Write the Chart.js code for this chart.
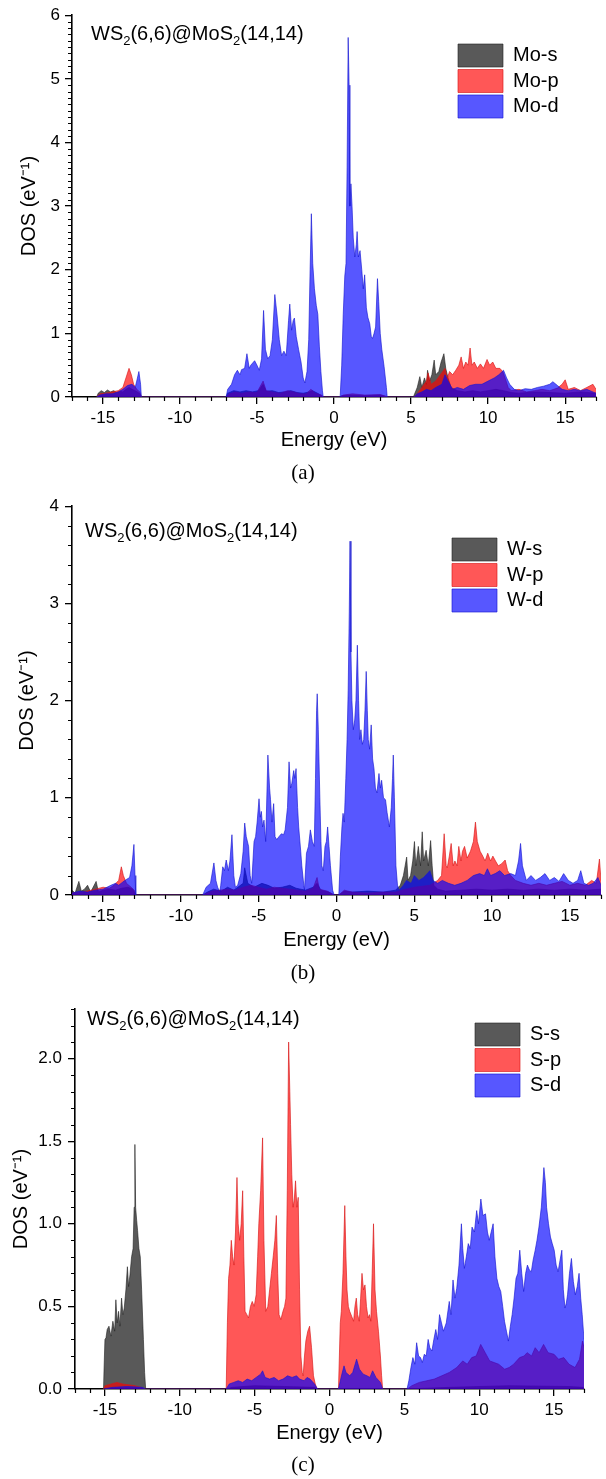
<!DOCTYPE html>
<html><head><meta charset="utf-8">
<script src="https://cdn.jsdelivr.net/npm/chart.js@4.4.0/dist/chart.umd.min.js"></script>
<style>
html,body{margin:0;padding:0;background:#fff;}
#wrap{position:relative;width:606px;height:1479px;overflow:hidden;background:#fff;}
canvas{position:absolute;left:0;}
.cap{position:absolute;left:0;width:606px;text-align:center;font-family:"Liberation Serif","Times New Roman",serif;font-size:21px;line-height:24px;color:#000;}
</style></head><body>
<div id="wrap">
<canvas id="ca" width="606" height="490" style="top:0px"></canvas>
<canvas id="cb" width="606" height="490" style="top:490px"></canvas>
<canvas id="cc" width="606" height="499" style="top:980px"></canvas>
<div class="cap" style="top:460px">(a)</div>
<div class="cap" style="top:960px">(b)</div>
<div class="cap" style="top:1452px">(c)</div>
</div>
<script>
// ---------------- DATA (energy eV, DOS eV^-1) ----------------
const xTickValues = [-15, -10, -5, 0, 5, 10, 15];
const legendA = ['Mo-s', 'Mo-p', 'Mo-d'];
const legendB = ['W-s', 'W-p', 'W-d'];
const legendC = ['S-s', 'S-p', 'S-d'];
const panelLabelParts = [['WS', 0], ['2', 1], ['(6,6)@MoS', 0], ['2', 1], ['(14,14)', 0]];
const xAxisTitle = 'Energy (eV)';
const yAxisTitle = 'DOS (eV\u207B\u00B9)';

// Panel (a): Mo
const moS = [[-15.4,0],[-15.3,0.06],[-15.1,0.1],[-14.9,0.07],[-14.7,0.11],[-14.5,0.08],[-14.3,0.1],[-14.1,0.07],[-13.9,0.09],[-13.7,0.08],[-13.5,0.12],[-13.3,0.15],[-13.1,0.12],[-12.9,0.1],[-12.7,0.07],[-12.55,0.04],[-12.5,0],
[-7.0,0],[-6.9,0.06],[-6.5,0.1],[-6.1,0.08],[-5.7,0.1],[-5.3,0.08],[-4.9,0.1],[-4.6,0.2],[-4.4,0.09],[-4.0,0.1],[-3.6,0.07],[-3.2,0.08],[-2.8,0.1],[-2.4,0.07],[-2.0,0.06],[-1.6,0.08],[-1.4,0.1],[-1.0,0.05],[-0.7,0],
[0.4,0],[0.5,0.02],[1.0,0.03],[2.0,0.02],[3.0,0.03],[3.5,0],
[5.15,0],[5.4,0.15],[5.57,0.32],[5.7,0.15],[5.87,0.3],[6.0,0.2],[6.07,0.42],[6.2,0.25],[6.35,0.35],[6.5,0.58],[6.6,0.35],[6.8,0.4],[6.95,0.55],[7.13,0.68],[7.25,0.45],[7.4,0.3],[7.6,0.15],[8.0,0.1],[8.5,0.08],[9,0.1],[9.5,0.08],[10,0.1],[10.5,0.12],[11,0.1],[11.5,0.07],[12,0.06],[13,0.08],[14,0.07],[15,0.06],[16,0.08],[17,0.06]];
const moP = [[-15.4,0],[-15.2,0.05],[-14.8,0.06],[-14.4,0.08],[-14.0,0.1],[-13.7,0.15],[-13.5,0.3],[-13.3,0.45],[-13.15,0.35],[-13.0,0.2],[-12.8,0.12],[-12.6,0.08],[-12.5,0],
[-7.0,0],[-6.8,0.05],[-6.4,0.08],[-6.0,0.06],[-5.5,0.08],[-5.0,0.07],[-4.6,0.25],[-4.4,0.1],[-4.0,0.08],[-3.5,0.06],[-3.0,0.1],[-2.6,0.08],[-2.2,0.05],[-1.8,0.05],[-1.5,0.12],[-1.2,0.06],[-0.8,0.03],[-0.7,0],
[0.4,0],[0.6,0.03],[1.2,0.05],[2.0,0.03],[3.0,0.04],[3.5,0],
[5.2,0],[5.4,0.05],[5.7,0.15],[6.0,0.25],[6.1,0.38],[6.3,0.2],[6.6,0.25],[6.9,0.35],[7.2,0.45],[7.35,0.3],[7.5,0.4],[7.7,0.35],[7.9,0.42],[8.1,0.5],[8.25,0.63],[8.4,0.45],[8.55,0.55],[8.7,0.5],[8.83,0.77],[8.95,0.5],[9.1,0.55],[9.3,0.45],[9.5,0.52],[9.7,0.45],[9.93,0.59],[10.1,0.5],[10.3,0.55],[10.5,0.45],[10.76,0.45],[10.95,0.4],[11.1,0.3],[11.3,0.15],[11.5,0.1],[12,0.12],[12.5,0.08],[13,0.1],[13.5,0.12],[14,0.1],[14.5,0.14],[14.8,0.2],[15.0,0.27],[15.2,0.12],[15.6,0.15],[16,0.1],[16.4,0.15],[16.8,0.2],[17,0.12]];
const moD = [[-15.4,0],[-15.2,0.03],[-14.8,0.05],[-14.4,0.05],[-14.0,0.08],[-13.7,0.12],[-13.4,0.18],[-13.1,0.2],[-12.9,0.15],[-12.8,0.25],[-12.66,0.4],[-12.55,0.2],[-12.5,0],
[-7.0,0],[-6.9,0.12],[-6.65,0.2],[-6.45,0.35],[-6.27,0.42],[-6.1,0.35],[-6.0,0.43],[-5.8,0.45],[-5.65,0.68],[-5.5,0.45],[-5.4,0.5],[-5.15,0.57],[-5.0,0.5],[-4.85,0.42],[-4.7,0.6],[-4.57,1.36],[-4.45,0.75],[-4.3,0.6],[-4.15,0.65],[-4.0,0.9],[-3.84,1.61],[-3.7,1.3],[-3.55,0.9],[-3.4,0.65],[-3.25,0.72],[-3.1,0.65],[-2.95,1.2],[-2.87,1.46],[-2.75,1.05],[-2.65,1.2],[-2.57,1.24],[-2.45,0.95],[-2.3,0.75],[-2.14,0.55],[-2.0,0.3],[-1.89,0.22],[-1.75,0.4],[-1.64,0.9],[-1.55,2.0],[-1.47,2.88],[-1.38,2.1],[-1.27,1.7],[-1.15,1.44],[-1.05,1.3],[-0.95,0.8],[-0.85,0.4],[-0.75,0.1],[-0.7,0],
[0.4,0],[0.5,0.5],[0.6,1.3],[0.7,1.9],[0.78,2.1],[0.85,3.6],[0.92,5.65],[0.98,4.9],[1.03,3.0],[1.1,3.35],[1.17,3.0],[1.25,2.5],[1.35,2.2],[1.45,2.4],[1.5,2.6],[1.58,2.2],[1.69,2.3],[1.8,2.0],[1.9,1.7],[1.99,1.92],[2.1,1.4],[2.2,1.25],[2.32,1.15],[2.42,0.95],[2.5,0.92],[2.6,1.0],[2.7,1.1],[2.82,1.86],[2.9,1.5],[3.0,1.0],[3.1,0.75],[3.25,0.48],[3.4,0.15],[3.45,0],
[5.2,0],[5.4,0.05],[5.7,0.08],[6.0,0.12],[6.3,0.1],[6.6,0.15],[7.0,0.2],[7.2,0.35],[7.4,0.25],[7.7,0.12],[8.0,0.15],[8.4,0.12],[8.8,0.18],[9.2,0.2],[9.6,0.2],[10.0,0.25],[10.4,0.3],[10.7,0.35],[11.0,0.42],[11.2,0.3],[11.4,0.2],[11.7,0.12],[12.0,0.1],[12.4,0.13],[12.8,0.12],[13.2,0.15],[13.6,0.17],[14.0,0.2],[14.2,0.24],[14.5,0.18],[14.8,0.12],[15.2,0.1],[15.6,0.12],[16.0,0.1],[16.4,0.12],[16.8,0.08],[17,0.06]];

// Panel (b): W
const wS = [[-17,0.05],[-16.8,0.02],[-16.56,0.14],[-16.4,0.04],[-16.2,0.06],[-16.0,0.1],[-15.8,0.03],[-15.45,0.14],[-15.3,0.03],[-15.0,0.05],[-14.6,0.06],[-14.2,0.05],[-13.8,0.07],[-13.4,0.08],[-13.1,0.06],[-12.9,0],
[-8.6,0],[-8.3,0.03],[-7.9,0.06],[-7.4,0.04],[-7.0,0.08],[-6.6,0.05],[-6.0,0.12],[-5.9,0.28],[-5.7,0.12],[-5.3,0.08],[-4.8,0.12],[-4.4,0.1],[-4.0,0.07],[-3.5,0.08],[-3.0,0.1],[-2.6,0.07],[-2.0,0.05],[-1.5,0.08],[-1.25,0.12],[-1.0,0.05],[-0.5,0.03],[-0.15,0],
[0.15,0],[0.5,0.04],[1.0,0.03],[2.0,0.04],[3.0,0.03],[3.8,0.05],[4.1,0.1],[4.3,0.2],[4.51,0.39],[4.6,0.15],[4.76,0.2],[4.9,0.35],[5.01,0.55],[5.1,0.3],[5.26,0.5],[5.4,0.3],[5.51,0.65],[5.6,0.35],[5.76,0.46],[5.9,0.3],[6.05,0.56],[6.15,0.3],[6.25,0.1],[6.5,0.06],[7,0.04],[8,0.05],[9,0.06],[10,0.05],[11,0.06],[12,0.05],[13,0.06],[14,0.05],[15,0.06],[16,0.05],[17,0.06]];
const wP = [[-17,0.02],[-16,0.04],[-15.5,0.06],[-15,0.08],[-14.6,0.07],[-14.3,0.1],[-14.0,0.15],[-13.83,0.29],[-13.7,0.2],[-13.5,0.12],[-13.2,0.08],[-13.0,0.05],[-12.9,0],
[-8.6,0],[-8,0.04],[-7.5,0.05],[-7,0.06],[-6.5,0.05],[-6,0.08],[-5.5,0.1],[-5,0.08],[-4.5,0.06],[-4,0.08],[-3.5,0.07],[-3,0.06],[-2.5,0.05],[-2,0.04],[-1.5,0.07],[-1.25,0.18],[-1.1,0.06],[-0.6,0.04],[-0.15,0],
[0.15,0],[0.5,0.05],[1.0,0.03],[2.0,0.02],[3.0,0.03],[3.8,0.03],[4.2,0.05],[5,0.08],[6,0.1],[6.5,0.15],[6.75,0.2],[6.92,0.63],[7.05,0.3],[7.12,0.28],[7.25,0.4],[7.37,0.53],[7.5,0.3],[7.61,0.35],[7.75,0.3],[7.86,0.5],[8.0,0.35],[8.1,0.45],[8.23,0.5],[8.4,0.38],[8.61,0.45],[8.8,0.55],[8.93,0.75],[9.05,0.55],[9.23,0.45],[9.4,0.4],[9.55,0.35],[9.72,0.43],[9.9,0.35],[10.05,0.4],[10.22,0.35],[10.4,0.3],[10.6,0.32],[10.84,0.36],[11.0,0.25],[11.2,0.2],[11.5,0.15],[12,0.12],[12.5,0.1],[13,0.12],[13.5,0.1],[14,0.12],[14.5,0.14],[15,0.1],[15.5,0.12],[16,0.1],[16.4,0.15],[16.7,0.12],[16.9,0.37],[17,0.15]];
const wD = [[-17,0.02],[-16.5,0.04],[-16,0.03],[-15.5,0.05],[-15,0.06],[-14.5,0.1],[-14.2,0.12],[-14,0.1],[-13.6,0.15],[-13.3,0.18],[-13.15,0.3],[-13.02,0.52],[-12.95,0.2],[-12.9,0],
[-8.6,0],[-8.38,0.08],[-8.1,0.12],[-7.88,0.33],[-7.75,0.15],[-7.64,0.08],[-7.5,0.03],[-7.44,0.1],[-7.31,0.29],[-7.2,0.25],[-7.09,0.36],[-6.95,0.25],[-6.85,0.35],[-6.72,0.62],[-6.6,0.2],[-6.5,0.08],[-6.35,0.1],[-6.15,0.22],[-6.0,0.45],[-5.9,0.74],[-5.8,0.6],[-5.65,0.5],[-5.55,0.2],[-5.45,0.12],[-5.3,0.55],[-5.2,0.6],[-5.1,0.75],[-4.98,0.99],[-4.9,0.8],[-4.83,0.86],[-4.75,0.7],[-4.66,0.77],[-4.55,0.55],[-4.41,1.44],[-4.3,1.1],[-4.24,0.98],[-4.15,0.75],[-4.04,0.94],[-3.95,0.6],[-3.84,0.57],[-3.7,0.6],[-3.54,0.63],[-3.4,0.62],[-3.3,0.67],[-3.15,0.9],[-3.05,1.37],[-2.95,1.1],[-2.87,1.15],[-2.75,1.28],[-2.68,1.2],[-2.6,1.3],[-2.5,0.9],[-2.43,0.7],[-2.3,0.45],[-2.23,0.3],[-2.1,0.1],[-2.06,0.05],[-1.93,0.43],[-1.8,0.5],[-1.68,0.67],[-1.55,0.55],[-1.43,0.5],[-1.35,1.2],[-1.28,1.9],[-1.24,2.07],[-1.17,1.7],[-1.07,1.0],[-1.0,0.55],[-0.94,0.3],[-0.85,0.25],[-0.74,0.5],[-0.65,0.55],[-0.57,0.7],[-0.48,0.5],[-0.39,0.3],[-0.25,0.05],[-0.15,0],
[0.15,0],[0.25,0.4],[0.35,0.7],[0.42,0.84],[0.5,0.75],[0.6,1.2],[0.68,1.6],[0.75,2.1],[0.82,2.9],[0.87,3.64],[0.93,2.5],[0.99,2.0],[1.08,1.7],[1.17,1.8],[1.25,2.0],[1.34,2.57],[1.42,2.0],[1.49,1.6],[1.57,1.7],[1.66,1.55],[1.75,1.6],[1.83,1.9],[1.91,2.3],[1.98,1.9],[2.04,1.6],[2.13,1.5],[2.23,1.75],[2.32,1.4],[2.41,1.3],[2.5,1.1],[2.6,1.05],[2.73,1.25],[2.82,1.1],[2.9,1.18],[3.02,1.0],[3.15,0.98],[3.25,0.85],[3.4,0.7],[3.52,0.9],[3.6,1.2],[3.65,1.44],[3.72,1.0],[3.82,0.3],[3.92,0.1],[4.02,0.05],[4.3,0.1],[4.5,0.15],[4.8,0.12],[5.0,0.2],[5.3,0.15],[5.6,0.18],[6.0,0.25],[6.2,0.15],[6.5,0.12],[6.8,0.15],[7.2,0.12],[7.6,0.1],[8,0.12],[8.4,0.15],[8.8,0.2],[9.2,0.22],[9.5,0.2],[9.7,0.27],[9.9,0.2],[10.2,0.22],[10.5,0.25],[10.8,0.2],[11.2,0.22],[11.5,0.2],[11.7,0.35],[11.83,0.53],[11.95,0.3],[12.2,0.15],[12.5,0.2],[12.8,0.15],[13.1,0.18],[13.4,0.22],[13.7,0.15],[14.0,0.18],[14.3,0.14],[14.6,0.22],[14.9,0.15],[15.2,0.12],[15.5,0.15],[15.7,0.25],[15.9,0.12],[16.2,0.1],[16.5,0.12],[16.8,0.18],[17,0.1]];

// Panel (c): S
const sS = [[-15.1,0],[-15.0,0.3],[-14.93,0.31],[-14.85,0.36],[-14.73,0.38],[-14.6,0.32],[-14.47,0.41],[-14.35,0.35],[-14.27,0.54],[-14.18,0.4],[-14.09,0.47],[-14.0,0.38],[-13.89,0.55],[-13.8,0.45],[-13.71,0.49],[-13.6,0.6],[-13.5,0.74],[-13.42,0.62],[-13.33,0.69],[-13.22,0.8],[-13.12,0.85],[-13.05,1.1],[-13.0,1.48],[-12.95,1.1],[-12.88,1.02],[-12.82,0.96],[-12.73,0.85],[-12.64,0.8],[-12.55,0.6],[-12.43,0.3],[-12.35,0.1],[-12.28,0],
[-6.9,0],[-6.5,0.01],[-5,0.02],[-3,0.015],[-1,0.01],[-0.8,0],
[5.2,0],[8,0.01],[12,0.02],[16,0.015],[17,0.01]];
const sP = [[-15.1,0],[-15.0,0.02],[-14.6,0.03],[-14.2,0.04],[-13.8,0.03],[-13.4,0.025],[-13.0,0.02],[-12.6,0.01],[-12.28,0],
[-6.9,0],[-6.82,0.4],[-6.74,0.67],[-6.65,0.75],[-6.56,0.9],[-6.47,0.8],[-6.38,0.75],[-6.28,0.95],[-6.18,1.28],[-6.1,1.0],[-6.0,0.9],[-5.9,1.0],[-5.8,1.2],[-5.72,0.8],[-5.64,0.47],[-5.52,0.45],[-5.41,0.43],[-5.28,0.5],[-5.16,0.53],[-5.03,0.5],[-4.9,0.57],[-4.8,0.8],[-4.72,1.0],[-4.6,1.2],[-4.47,1.52],[-4.38,0.9],[-4.26,0.47],[-4.12,0.5],[-4.0,0.6],[-3.88,0.7],[-3.75,0.81],[-3.65,0.9],[-3.55,1.05],[-3.46,0.7],[-3.37,0.45],[-3.25,0.42],[-3.11,0.47],[-3.0,0.5],[-2.91,0.55],[-2.82,1.2],[-2.73,2.1],[-2.65,1.8],[-2.6,1.6],[-2.52,1.3],[-2.43,1.1],[-2.35,1.15],[-2.27,1.26],[-2.18,1.1],[-2.09,1.16],[-2.0,0.6],[-1.91,0.2],[-1.82,0.1],[-1.76,0.08],[-1.67,0.2],[-1.58,0.29],[-1.45,0.35],[-1.33,0.38],[-1.2,0.25],[-1.07,0.08],[-0.95,0.03],[-0.82,0],
[0.6,0],[0.66,0.2],[0.72,0.4],[0.79,0.47],[0.9,0.7],[1.02,1.11],[1.1,0.8],[1.17,0.6],[1.26,0.5],[1.35,0.47],[1.48,0.44],[1.61,0.41],[1.7,0.5],[1.79,0.55],[1.88,0.45],[1.99,0.41],[2.08,0.55],[2.17,0.7],[2.27,0.6],[2.37,0.63],[2.47,0.5],[2.58,0.43],[2.67,0.45],[2.76,0.41],[2.85,0.7],[2.94,1.0],[3.04,0.6],[3.14,0.47],[3.27,0.35],[3.4,0.2],[3.48,0.08],[3.55,0],
[5.2,0],[5.5,0.02],[6,0.04],[6.5,0.05],[7,0.06],[7.5,0.08],[8,0.1],[8.5,0.13],[8.9,0.17],[9.2,0.15],[9.5,0.19],[9.8,0.2],[10.1,0.27],[10.4,0.22],[10.7,0.17],[11.0,0.16],[11.3,0.15],[11.7,0.12],[12.0,0.13],[12.3,0.15],[12.7,0.19],[13.0,0.2],[13.2,0.22],[13.5,0.2],[13.74,0.25],[14.0,0.22],[14.3,0.27],[14.6,0.22],[15.0,0.21],[15.3,0.18],[15.65,0.19],[16.0,0.15],[16.4,0.13],[16.7,0.18],[16.9,0.29],[17,0.25]];
const sD = [[-15.1,0],[-14.5,0.01],[-13.5,0.015],[-12.5,0.01],[-12.28,0],
[-6.9,0],[-6.7,0.03],[-6.4,0.04],[-6.1,0.05],[-5.8,0.04],[-5.5,0.06],[-5.2,0.05],[-4.9,0.07],[-4.6,0.09],[-4.47,0.11],[-4.3,0.07],[-4.0,0.06],[-3.7,0.07],[-3.4,0.05],[-3.1,0.06],[-2.8,0.08],[-2.5,0.07],[-2.2,0.08],[-2.0,0.06],[-1.7,0.05],[-1.5,0.07],[-1.3,0.06],[-1.0,0.03],[-0.8,0],
[0.6,0],[0.8,0.08],[0.97,0.14],[1.1,0.1],[1.35,0.08],[1.55,0.1],[1.81,0.18],[2.0,0.12],[2.25,0.09],[2.5,0.08],[2.7,0.07],[2.88,0.11],[3.1,0.07],[3.4,0.04],[3.55,0],
[5.18,0],[5.3,0.05],[5.44,0.13],[5.57,0.19],[5.7,0.15],[5.82,0.28],[5.95,0.2],[6.08,0.19],[6.2,0.16],[6.33,0.21],[6.46,0.2],[6.59,0.3],[6.7,0.25],[6.84,0.23],[6.97,0.3],[7.1,0.36],[7.22,0.3],[7.35,0.45],[7.48,0.4],[7.61,0.35],[7.8,0.4],[8.0,0.53],[8.12,0.45],[8.25,0.66],[8.38,0.55],[8.5,0.61],[8.65,0.75],[8.81,1.0],[8.9,0.85],[9.01,0.73],[9.14,0.8],[9.27,0.88],[9.4,0.85],[9.52,0.98],[9.68,0.95],[9.83,1.08],[9.95,1.0],[10.11,1.15],[10.25,1.05],[10.42,1.06],[10.55,0.95],[10.67,0.9],[10.8,0.95],[10.93,1.0],[11.05,0.8],[11.18,0.67],[11.31,0.62],[11.44,0.59],[11.57,0.5],[11.69,0.41],[11.82,0.35],[11.95,0.29],[12.08,0.38],[12.2,0.45],[12.33,0.55],[12.46,0.67],[12.58,0.7],[12.71,0.84],[12.84,0.7],[12.97,0.59],[13.1,0.7],[13.22,0.75],[13.35,0.72],[13.48,0.71],[13.6,0.78],[13.74,0.84],[13.86,0.9],[13.99,0.98],[14.15,1.1],[14.32,1.34],[14.42,1.25],[14.5,1.1],[14.63,1.0],[14.76,0.92],[14.88,0.88],[15.01,0.84],[15.14,0.75],[15.27,0.71],[15.4,0.78],[15.52,0.84],[15.62,0.6],[15.73,0.49],[15.82,0.52],[15.9,0.57],[16.03,0.7],[16.16,0.79],[16.29,0.65],[16.42,0.57],[16.55,0.62],[16.67,0.7],[16.78,0.55],[16.88,0.45],[17,0.3]];

// ---------------- STYLE ----------------
const FONT = '"Liberation Sans", Arial, Helvetica, sans-serif';
Chart.defaults.font.family = FONT;
Chart.defaults.color = '#000';
const COLORS = [
  {fill: 'rgba(0,0,0,0.65)', line: 'rgba(30,30,30,0.75)'},
  {fill: 'rgba(255,0,0,0.66)', line: 'rgba(215,20,20,0.8)'},
  {fill: 'rgba(0,0,255,0.66)', line: 'rgba(20,20,210,0.8)'}
];

const minorTicks = {
  id: 'minorTicks',
  afterDraw(chart, args, o) {
    const ctx = chart.ctx, xs = chart.scales.x, ys = chart.scales.y;
    ctx.save();
    ctx.strokeStyle = '#000';
    ctx.lineWidth = 1.2;
    ctx.beginPath();
    const nx = Math.round((xs.max - xs.min) / o.xStep);
    for (let i = 0; i <= nx; i++) {
      const v = xs.min + i * o.xStep;
      const r = v / o.xMajor;
      if (Math.abs(r - Math.round(r)) < 1e-6) continue;
      const p = Math.round(xs.getPixelForValue(v)) + 0.5;
      ctx.moveTo(p, xs.top);
      ctx.lineTo(p, xs.top + o.len);
    }
    const ny = Math.round((ys.max - ys.min) / o.yStep);
    for (let i = 0; i <= ny; i++) {
      const v = ys.min + i * o.yStep;
      const r = v / o.yMajor;
      if (Math.abs(r - Math.round(r)) < 1e-6) continue;
      const p = Math.round(ys.getPixelForValue(v)) + 0.5;
      ctx.moveTo(ys.right, p);
      ctx.lineTo(ys.right - o.len, p);
    }
    ctx.stroke();
    ctx.restore();
  }
};

const panelText = {
  id: 'panelText',
  afterDraw(chart, args, o) {
    const ctx = chart.ctx;
    ctx.save();
    ctx.fillStyle = '#000';
    ctx.textBaseline = 'alphabetic';
    let x = o.x;
    for (const [t, sub] of panelLabelParts) {
      ctx.font = (sub ? '13px ' : '20px ') + FONT;
      ctx.fillText(t, x, o.y + (sub ? 5 : 0));
      x += ctx.measureText(t).width;
    }
    ctx.restore();
  }
};

const legendPos = {
  id: 'legendPos',
  afterLayout(chart, args, o) {
    const lg = chart.legend;
    if (!lg) return;
    const pad = lg.options.labels.padding;
    const w = lg.width, h = lg.height;
    lg.left = o.x - pad; lg.top = o.y - pad;
    lg.right = lg.left + w; lg.bottom = lg.top + h;
  }
};

function series(label, pairs, color, order) {
  return {
    label,
    data: pairs.map(p => ({x: p[0], y: p[1]})),
    backgroundColor: color.fill,
    borderColor: color.line,
    borderWidth: 0.8,
    fill: 'origin',
    pointRadius: 0,
    tension: 0,
    order
  };
}

function makePanel(id, cfg) {
  return new Chart(document.getElementById(id), {
    type: 'line',
    data: {
      datasets: [
        series(cfg.labels[0], cfg.s, COLORS[0], 3),
        series(cfg.labels[1], cfg.p, COLORS[1], 2),
        series(cfg.labels[2], cfg.d, COLORS[2], 1)
      ]
    },
    options: {
      responsive: false,
      animation: false,
      devicePixelRatio: 1,
      layout: {padding: {left: 0, top: cfg.top, right: cfg.right, bottom: cfg.bottom}},
      scales: {
        x: {
          type: 'linear', min: -17, max: 17,
          afterFit: s => { s.height = 60; },
          afterBuildTicks: s => { s.ticks = xTickValues.map(v => ({value: v})); },
          ticks: {autoSkip: false, maxRotation: 0, padding: 4, font: {size: 17}, color: '#000'},
          grid: {drawOnChartArea: false, drawTicks: true, tickLength: 7, color: '#000', lineWidth: 1.3},
          border: {display: true, color: '#000', width: 1.6},
          title: {display: true, text: xAxisTitle, font: {size: 20}, color: '#000', padding: {top: 0, bottom: cfg.xTitlePad}}
        },
        y: {
          type: 'linear', min: 0, max: cfg.ymax,
          afterFit: s => { s.width = cfg.left; },
          ticks: {stepSize: cfg.yMajor, includeBounds: false, padding: cfg.yTickPad, font: {size: 17}, color: '#000',
                  callback: v => cfg.yDec ? Number(v).toFixed(cfg.yDec) : String(v)},
          grid: {drawOnChartArea: false, drawTicks: true, tickLength: 7, color: '#000', lineWidth: 1.3},
          border: {display: true, color: '#000', width: 1.6},
          title: {display: true, text: yAxisTitle, font: {size: 20}, color: '#000', padding: {top: cfg.yTitlePad, bottom: 0}}
        }
      },
      plugins: {
        legend: {
          position: 'chartArea', align: 'start',
          labels: {boxWidth: 45, boxHeight: 23, padding: 2.5, font: {size: 20}, color: '#000',
                   sort: (a, b) => a.datasetIndex - b.datasetIndex}
        },
        tooltip: {enabled: false},
        legendPos: {x: cfg.legX, y: cfg.legY},
        panelText: {x: cfg.textX, y: cfg.textY},
        minorTicks: {xStep: 1, xMajor: 5, yStep: cfg.yMinor, yMajor: cfg.yMajor, len: 4}
      }
    },
    plugins: [minorTicks, panelText, legendPos]
  });
}

makePanel('ca', {labels: legendA, s: moS, p: moP, d: moD,
  top: 13, right: 10, bottom: 33, left: 72, ymax: 6, yMajor: 1, yMinor: 0.1, yDec: 0,
  yTickPad: 5, yTitlePad: 17, xTitlePad: 5, legX: 458, legY: 44, textX: 91, textY: 40});
makePanel('cb', {labels: legendB, s: wS, p: wP, d: wD,
  top: 16, right: 5, bottom: 25, left: 72, ymax: 4, yMajor: 1, yMinor: 0.2, yDec: 0,
  yTickPad: 6, yTitlePad: 15, xTitlePad: 3, legX: 452, legY: 48, textX: 85, textY: 47});
makePanel('cc', {labels: legendC, s: sS, p: sP, d: sD,
  top: 29, right: 22, bottom: 30, left: 75, ymax: 2.3, yMajor: 0.5, yMinor: 0.1, yDec: 1,
  yTickPad: 6, yTitlePad: 9, xTitlePad: 4, legX: 475, legY: 43, textX: 87, textY: 45});
</script>
</body></html>
